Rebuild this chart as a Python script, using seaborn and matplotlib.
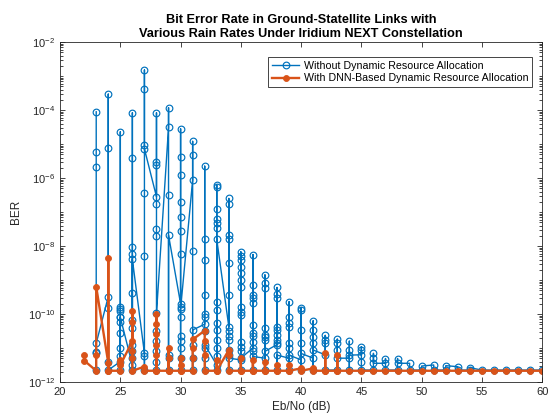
import numpy as np
import matplotlib
matplotlib.use("Agg")
import matplotlib.pyplot as plt
import matplotlib.ticker as mticker
import seaborn as sns

# Eb/No points (dB) and log10(BER) read at each of them, in drawing order
blue_ebno = list(range(23, 61))
blue_log_ber = [
    [-4.05, -5.24, -5.68, -11.65, -11.16, -11.11, -10.86],
    [-9.49, -3.53, -5.11, -9.83, -11.4, -11.65],
    [-11.4, -4.64, -9.78, -9.85, -9.92, -10.08, -10.23, -10.56, -11.0, -11.25, -11.65, -10.1],
    [-11.5, -4.08, -5.4, -9.39, -10.18, -10.4, -10.9, -11.1, -11.3, -11.65, -8.04, -8.22, -8.39],
    [-11.16, -11.24, -11.65, -2.82, -3.38, -5.04, -6.45, -8.29, -5.14],
    [-6.55, -4.08, -5.52, -5.62, -6.75, -7.49, -7.71, -11.65, -11.4, -11.1, -10.8, -10.5, -9.98],
    [-4.51, -3.93, -6.51, -11.65, -11.3, -11.2, -7.68],
    [-9.7, -4.55, -5.38, -5.92, -6.71, -7.16, -7.55, -8.22, -9.78, -10.1, -10.65, -10.8, -11.0, -11.3, -11.65, -9.85],
    [-6.06, -4.92, -5.31, -8.15, -11.65, -11.3, -10.9, -10.47],
    [-10.3, -5.65, -7.78, -8.41, -9.45, -10.0, -10.1, -10.5, -11.0, -11.3, -11.65, -10.9],
    [-11.5, -6.2, -6.25, -9.64, -9.88, -10.27, -10.47, -10.76, -11.0, -11.25, -11.65, -6.92, -7.19, -7.33, -7.48, -7.8],
    [-10.37, -6.6, -6.75, -7.68, -7.8, -8.49, -9.44, -10.5, -10.64, -10.76, -11.06, -11.21, -11.65, -11.3],
    [-11.35, -8.17, -8.29, -8.41, -8.61, -8.8, -9.0, -9.2, -9.78, -9.93, -10.03, -10.81, -10.96, -11.1, -11.65, -11.3],
    [-11.0, -8.25, -9.15, -9.44, -9.54, -9.69, -10.32, -10.56, -10.66, -10.81, -11.1, -11.65, -11.25],
    [-11.3, -8.85, -9.09, -9.24, -10.42, -10.62, -10.67, -10.76, -11.65, -11.1],
    [-10.9, -9.22, -9.4, -9.54, -10.37, -10.47, -10.62, -10.76, -10.86, -11.65, -11.21],
    [-11.3, -9.64, -10.08, -10.27, -10.37, -10.86, -11.0, -11.65, -11.21],
    [-11.35, -9.81, -9.88, -10.47, -10.86, -11.65, -11.16],
    [-11.3, -10.2, -10.47, -10.67, -10.86, -11.65, -11.06],
    [-11.2, -10.63, -10.76, -10.86, -11.65],
    [-11.65, -10.74, -10.86, -11.06, -11.3],
    [-11.3, -10.8, -11.06, -11.65, -11.21],
    [-11.2, -10.96, -11.06, -11.4, -11.65],
    [-11.65, -11.16, -11.3, -11.45],
    [-11.45, -11.31, -11.65],
    [-11.65, -11.31, -11.45],
    [-11.45, -11.65],
    [-11.65, -11.53],
    [-11.5, -11.65],
    [-11.65, -11.52],
    [-11.55, -11.65],
    [-11.65, -11.58],
    [-11.65],
    [-11.65],
    [-11.65],
    [-11.65],
    [-11.65],
    [-11.65],
]

red_ebno = list(range(22, 61))
red_log_ber = [
    [-11.2, -11.37],
    [-11.67, -11.2, -9.2],
    [-11.44, -11.67, -8.36, -11.67],
    [-11.67, -11.35, -11.45, -11.5],
    [-10.8, -9.9, -10.23, -11.1, -11.3, -11.67],
    [-11.55, -11.67],
    [-11.67, -10.0, -10.3, -10.6, -10.9, -11.2, -11.67],
    [-11.67, -11.0, -11.3, -11.67],
    [-11.67, -11.3, -11.5, -11.67],
    [-11.67, -11.3, -11.0, -10.75],
    [-10.49, -10.8, -11.2, -11.67],
    [-11.67, -11.35, -11.67],
    [-11.06, -11.2, -11.67],
    [-11.67, -11.3, -11.67],
    [-11.67, -11.35, -11.67],
    [-11.67, -11.4, -11.67],
    [-11.67, -11.5, -11.67],
    [-11.67, -11.5, -11.67],
    [-11.6, -11.67],
    [-11.6, -11.67],
    [-11.67, -11.15, -11.67],
    [-11.67, -11.2, -11.67],
    [-11.67], [-11.67], [-11.67], [-11.67], [-11.67], [-11.67], [-11.67],
    [-11.67], [-11.67], [-11.67], [-11.67], [-11.67], [-11.67], [-11.67],
    [-11.67], [-11.67], [-11.67],
]

labels = ["Without Dynamic Resource Allocation",
          "With DNN-Based Dynamic Resource Allocation"]
blue = "#0072BD"
orange = "#D95319"


def flatten(ebno, log_ber):
    xs, ys = [], []
    for e, vals in zip(ebno, log_ber):
        for v in vals:
            xs.append(e)
            ys.append(10.0 ** v)
    return np.array(xs, dtype=float), np.array(ys)


bx, by = flatten(blue_ebno, blue_log_ber)
rx, ry = flatten(red_ebno, red_log_ber)

plt.rcParams["font.family"] = ["Liberation Sans", "DejaVu Sans"]
plt.rcParams["mathtext.fontset"] = "custom"
plt.rcParams["mathtext.rm"] = "Liberation Sans"

fig = plt.figure(figsize=(5.51, 4.17), dpi=100)
ax = fig.add_axes([0.109, 0.084, 0.875, 0.815])

sns.lineplot(x=bx, y=by, sort=False, estimator=None, ax=ax, color=blue,
             linewidth=1.0, marker="o", markersize=4.8, markerfacecolor="none",
             markeredgecolor=blue, markeredgewidth=0.85, label=labels[0])
sns.lineplot(x=rx, y=ry, sort=False, estimator=None, ax=ax, color=orange,
             linewidth=1.7, marker="o", markersize=4.3, markerfacecolor=orange,
             markeredgecolor=orange, markeredgewidth=0.6, label=labels[1])

ax.set_yscale("log")
ax.set_xlim(20, 60)
ax.set_ylim(1e-12, 1e-2)
ax.set_xticks(np.arange(20, 61, 5))
ax.set_yticks([1e-12, 1e-10, 1e-8, 1e-6, 1e-4, 1e-2])
ax.yaxis.set_major_formatter(mticker.LogFormatterMathtext())
ax.yaxis.set_minor_locator(mticker.LogLocator(base=10, subs=np.arange(1, 10), numticks=100))
ax.yaxis.set_minor_formatter(mticker.NullFormatter())

ax.tick_params(which="both", direction="in", top=True, right=True,
               labelsize=8, colors="#262626", width=0.6)
ax.tick_params(which="major", length=3.5)
ax.tick_params(which="minor", length=2)
for s in ax.spines.values():
    s.set_linewidth(0.6)
    s.set_color("#262626")

ax.set_xlabel("Eb/No (dB)", fontsize=8.5, color="#262626", labelpad=3)
ax.set_ylabel("BER", fontsize=8.5, color="#262626", labelpad=4)
ax.set_title("Bit Error Rate in Ground-Statellite Links with\n"
             "Various Rain Rates Under Iridium NEXT Constellation",
             fontsize=9.2, fontweight="bold", color="black", pad=4, linespacing=1.15)

leg = ax.legend(loc="upper right", bbox_to_anchor=(0.979, 0.956), borderaxespad=0,
                fontsize=7.7, fancybox=False, framealpha=1, edgecolor="#262626",
                handlelength=2.6, handletextpad=0.4, borderpad=0.35, labelspacing=0.25)
leg.get_frame().set_linewidth(0.6)

fig.savefig("out.png", dpi=100)
